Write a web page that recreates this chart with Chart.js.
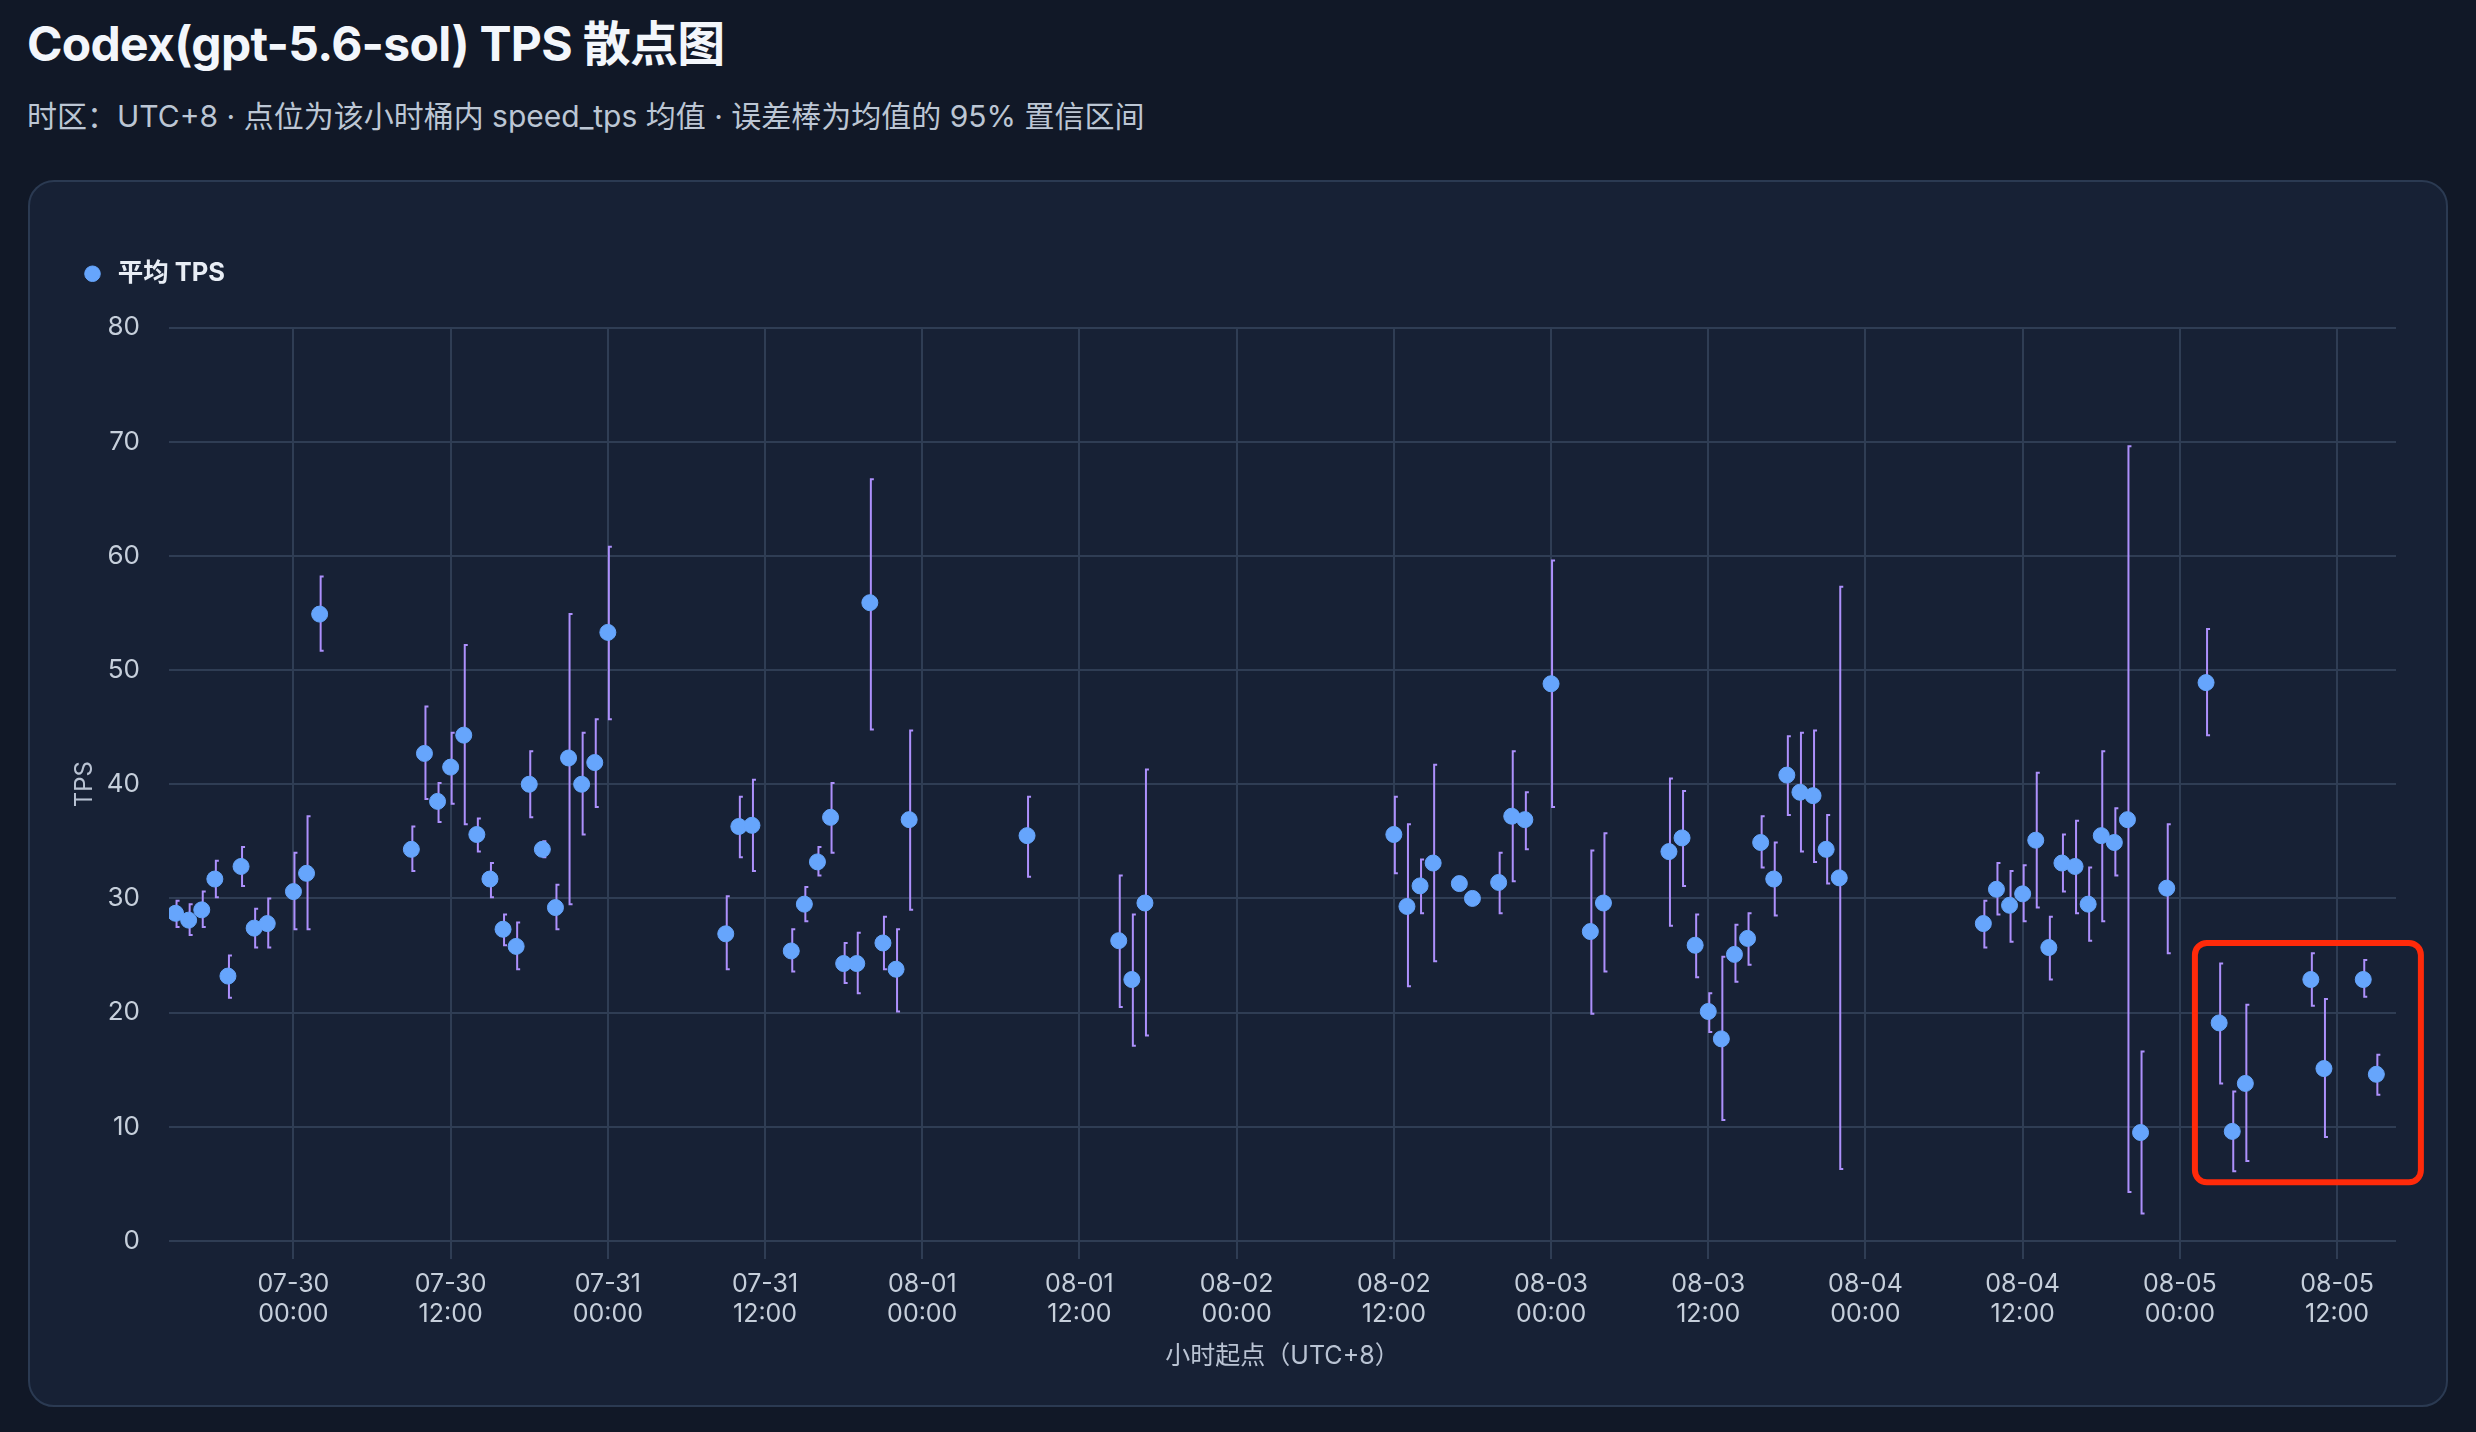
<!DOCTYPE html>
<html lang="zh-CN">
<head>
<meta charset="utf-8">
<title>Codex(gpt-5.6-sol) TPS 散点图</title>
<script src="https://cdn.jsdelivr.net/npm/chart.js@4.4.1/dist/chart.umd.min.js"></script>
<style>
  html, body {
    margin: 0;
    padding: 0;
    width: 2476px;
    height: 1432px;
    background: #111827;
    font-family: "Inter", "Noto Sans CJK SC", sans-serif;
    overflow: hidden;
  }
  h1 {
    position: absolute;
    left: 27px;
    top: 20px;
    margin: 0;
    font-size: 48px;
    line-height: 48px;
    font-weight: 700;
    color: #f3f6fb;
    letter-spacing: -0.7px;
  }
  .sub {
    position: absolute;
    left: 27px;
    top: 101px;
    margin: 0;
    font-size: 30px;
    line-height: 30px;
    color: #bcc6d4;
  }
  .card {
    position: absolute;
    left: 28px;
    top: 180px;
    width: 2420px;
    height: 1227px;
    box-sizing: border-box;
    border: 2px solid #2b3a52;
    border-radius: 26px;
    background: #172135;
  }
  .card canvas {
    display: block;
  }
</style>
</head>
<body>
<h1>Codex(gpt-5.6-sol) TPS 散点图</h1>
<p class="sub">时区：UTC+8 · 点位为该小时桶内 speed_tps 均值 · 误差棒为均值的 95% 置信区间</p>
<div class="card"><canvas id="tps"></canvas></div>

<script>
// hour buckets, counted from 07-30 00:00 (UTC+8)
const hours = [
  -9, -8, -7, -6, -5, -4, -3, -2, 0, 1, 2,
  9, 10, 11, 12, 13, 14, 15, 16, 17, 18, 19, 20, 21, 22, 23, 24,
  33, 34, 35, 38, 39, 40, 41, 42, 43, 44, 45, 46, 47,
  56, 63, 64, 65,
  84, 85, 86, 87, 89, 90, 92, 93, 94, 96, 99, 100,
  105, 106, 107, 108, 109, 110, 111, 112, 113, 114, 115, 116, 117, 118,
  129, 130, 131, 132, 133, 134, 135, 136, 137, 138, 139, 140, 141, 143,
  146, 147, 148, 149, 154, 155, 158, 159
];
const meanTps = [
  28.7, 28.1, 29.0, 31.7, 23.2, 32.8, 27.4, 27.8, 30.6, 32.2, 54.9,
  34.3, 42.7, 38.5, 41.5, 44.3, 35.6, 31.7, 27.3, 25.8, 40.0, 34.3, 29.2, 42.3, 40.0, 41.9, 53.3,
  26.9, 36.3, 36.4, 25.4, 29.5, 33.2, 37.1, 24.3, 24.3, 55.9, 26.1, 23.8, 36.9,
  35.5, 26.3, 22.9, 29.6,
  35.6, 29.3, 31.1, 33.1, 31.3, 30.0, 31.4, 37.2, 36.9, 48.8, 27.1, 29.6,
  34.1, 35.3, 25.9, 20.1, 17.7, 25.1, 26.5, 34.9, 31.7, 40.8, 39.3, 39.0, 34.3, 31.8,
  27.8, 30.8, 29.4, 30.4, 35.1, 25.7, 33.1, 32.8, 29.5, 35.5, 34.9, 36.9, 9.5, 30.9,
  48.9, 19.1, 9.6, 13.8, 22.9, 15.1, 22.9, 14.6
];
const ciLow = [
  27.5, 26.8, 27.5, 30.1, 21.3, 31.1, 25.7, 25.7, 27.3, 27.3, 51.7,
  32.4, 38.7, 36.7, 38.3, 36.5, 34.1, 30.1, 25.9, 23.8, 37.1, 33.6, 27.3, 29.5, 35.6, 38.0, 45.7,
  23.8, 33.6, 32.4, 23.6, 28.0, 32.0, 34.0, 22.6, 21.7, 44.8, 23.8, 20.1, 29.0,
  31.9, 20.5, 17.1, 18.0,
  32.2, 22.3, 28.7, 24.5, 31.0, 29.7, 28.7, 31.5, 34.3, 38.0, 19.9, 23.6,
  27.6, 31.1, 23.1, 18.3, 10.6, 22.7, 24.2, 32.7, 28.5, 37.3, 34.1, 33.2, 31.3, 6.3,
  25.7, 28.6, 26.2, 28.0, 29.2, 22.9, 30.6, 28.7, 26.3, 28.0, 32.0, 4.3, 2.4, 25.2,
  44.3, 13.8, 6.1, 7.0, 20.6, 9.1, 21.4, 12.8
];
const ciHigh = [
  29.8, 29.5, 30.6, 33.3, 25.0, 34.5, 29.1, 30.0, 34.0, 37.2, 58.2,
  36.3, 46.8, 40.1, 44.5, 52.2, 37.0, 33.1, 28.6, 27.9, 42.9, 35.0, 31.2, 54.9, 44.5, 45.7, 60.8,
  30.2, 38.9, 40.4, 27.3, 31.0, 34.5, 40.1, 26.1, 27.0, 66.7, 28.4, 27.3, 44.7,
  38.9, 32.0, 28.6, 41.3,
  38.9, 36.5, 33.4, 41.7, 31.6, 30.3, 34.0, 42.9, 39.3, 59.6, 34.2, 35.7,
  40.5, 39.4, 28.6, 21.7, 24.9, 27.7, 28.7, 37.2, 34.9, 44.2, 44.5, 44.7, 37.3, 57.3,
  29.8, 33.1, 32.4, 32.9, 41.0, 28.4, 35.6, 36.8, 32.7, 42.9, 37.9, 69.6, 16.6, 36.5,
  53.6, 24.3, 13.1, 20.7, 25.2, 21.2, 24.6, 16.3
];
const yTicks = [0, 10, 20, 30, 40, 50, 60, 70, 80];
// hand-drawn highlight box in data units: [x0, x1, y0, y1]
const highlight = [145.15, 162.4, 5.14, 26.1];

const baseTime = Date.UTC(2025, 6, 30);
const pad2 = (n) => String(n).padStart(2, "0");
function hourLabel(h) {
  const d = new Date(baseTime + h * 3600 * 1000);
  return [
    pad2(d.getUTCMonth() + 1) + "-" + pad2(d.getUTCDate()),
    pad2(d.getUTCHours()) + ":" + pad2(d.getUTCMinutes()),
  ];
}

const points = hours.map((h, i) => ({ x: h, y: meanTps[i] }));

const errorBars = {
  id: "errorBars",
  beforeDatasetsDraw(chart) {
    const { ctx, scales } = chart;
    ctx.save();
    ctx.strokeStyle = "#ad90fc";
    ctx.lineWidth = 2;
    hours.forEach((h, i) => {
      const x = scales.x.getPixelForValue(h) + 1;
      const yLo = scales.y.getPixelForValue(ciLow[i]);
      const yHi = scales.y.getPixelForValue(ciHigh[i]);
      ctx.beginPath();
      ctx.moveTo(x, yHi);
      ctx.lineTo(x, yLo);
      ctx.moveTo(x - 1, yHi);
      ctx.lineTo(x + 3, yHi);
      ctx.moveTo(x - 1, yLo);
      ctx.lineTo(x + 3, yLo);
      ctx.stroke();
    });
    ctx.restore();
  },
};

const highlightBox = {
  id: "highlightBox",
  afterDraw(chart) {
    const { ctx, scales } = chart;
    const x0 = scales.x.getPixelForValue(highlight[0]);
    const x1 = scales.x.getPixelForValue(highlight[1]);
    const y0 = scales.y.getPixelForValue(highlight[3]);
    const y1 = scales.y.getPixelForValue(highlight[2]);
    ctx.save();
    ctx.strokeStyle = "#ff2a0a";
    ctx.lineWidth = 6;
    ctx.beginPath();
    ctx.roundRect(x0, y0, x1 - x0, y1 - y0, 12);
    ctx.stroke();
    ctx.restore();
  },
};

const legendGap = {
  id: "legendGap",
  beforeInit(chart) {
    const fit = chart.legend.fit;
    chart.legend.fit = function () {
      fit.bind(chart.legend)();
      this.height += 31;
    };
  },
};

Chart.defaults.color = "#c6cfdb";
Chart.defaults.font.family = '"Inter", "Noto Sans CJK SC", sans-serif';

new Chart(document.getElementById("tps"), {
  type: "scatter",
  data: {
    datasets: [
      {
        label: "平均 TPS",
        data: points,
        backgroundColor: "#66a5fc",
        borderColor: "#66a5fc",
        borderWidth: 1,
        pointRadius: 8,
        pointHoverRadius: 8,
        pointStyle: "circle",
      },
    ],
  },
  options: {
    responsive: true,
    maintainAspectRatio: false,
    animation: false,
    layout: {
      padding: { top: 69, left: 40, right: 50, bottom: 30 },
    },
    plugins: {
      legend: {
        display: true,
        position: "top",
        align: "start",
        labels: {
          usePointStyle: true,
          boxWidth: 25,
          boxHeight: 11,
          padding: 10,
          color: "#e8edf5",
          font: { size: 25.5, weight: "bold" },
        },
      },
      tooltip: { enabled: false },
    },
    scales: {
      x: {
        type: "linear",
        min: -9.5,
        max: 160.5,
        border: { display: false },
        grid: {
          color: "#2f3d54",
          lineWidth: 2,
          drawTicks: true,
          tickLength: 18,
        },
        ticks: {
          stepSize: 12,
          includeBounds: false,
          autoSkip: false,
          maxRotation: 0,
          padding: 10,
          font: { size: 25, lineHeight: 1.2 },
          callback: (v) => hourLabel(v),
        },
        title: {
          display: true,
          text: "小时起点（UTC+8）",
          color: "#b9c3d3",
          font: { size: 25, lineHeight: 1.2 },
          padding: { top: 2, bottom: 4 },
        },
      },
      y: {
        min: yTicks[0],
        max: yTicks[yTicks.length - 1],
        border: { display: false },
        grid: {
          color: "#2f3d54",
          lineWidth: 2,
          drawTicks: false,
        },
        afterBuildTicks: (axis) => {
          axis.ticks = yTicks.map((v) => ({ value: v }));
        },
        afterFit: (axis) => {
          axis.width = 99;
        },
        ticks: {
          padding: 29,
          font: { size: 26 },
        },
        title: {
          display: true,
          text: "TPS",
          color: "#b9c3d3",
          font: { size: 24 },
          padding: { top: 0, bottom: 4 },
        },
      },
    },
  },
  plugins: [errorBars, highlightBox, legendGap],
});
</script>
</body>
</html>
